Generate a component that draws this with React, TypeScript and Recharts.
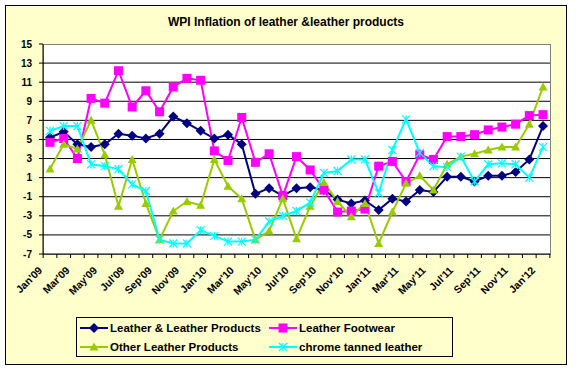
import { CartesianGrid, Legend, Line, LineChart, XAxis, YAxis } from "recharts";

const months = [
  "Jan'09", "Feb'09", "Mar'09", "Apr'09", "May'09", "Jun'09", "Jul'09", "Aug'09", "Sep'09", "Oct'09", "Nov'09", "Dec'09",
  "Jan'10", "Feb'10", "Mar'10", "Apr'10", "May'10", "Jun'10", "Jul'10", "Aug'10", "Sep'10", "Oct'10", "Nov'10", "Dec'10",
  "Jan'11", "Feb'11", "Mar'11", "Apr'11", "May'11", "Jun'11", "Jul'11", "Aug'11", "Sep'11", "Oct'11", "Nov'11", "Dec'11",
  "Jan'12",
];

const leatherProducts = [
  5.2, 5.8, 4.5, 4.2, 4.5, 5.6, 5.4, 5.1, 5.6, 7.4, 6.7, 5.9,
  5.1, 5.5, 4.5, -0.7, -0.1, -0.9, -0.1, 0.0, -0.3, -1.3, -1.7, -1.4,
  -2.4, -1.2, -1.5, -0.3, -0.5, 1.1, 1.1, 0.6, 1.2, 1.2, 1.6, 2.9,
  6.4,
];

const leatherFootwear = [
  4.7, 5.1, 3.0, 9.3, 8.8, 12.2, 8.4, 10.1, 7.9, 10.5, 11.4, 11.2,
  3.8, 2.8, 7.3, 2.6, 3.5, -0.9, 3.2, 1.8, -0.3, -2.6, -2.5, -2.3,
  2.2, 2.7, 0.6, 3.4, 2.9, 5.3, 5.3, 5.5, 6.0, 6.3, 6.6, 7.5,
  7.6,
];

const otherProducts = [
  1.9, 4.5, 4.0, 7.0, 3.4, -2.0, 2.9, -1.7, -5.5, -2.5, -1.5, -1.9,
  2.9, 0.1, -1.2, -5.5, -4.6, -1.2, -5.4, -2.0, 0.5, -1.5, -3.1, -1.7,
  -5.9, -2.6, 0.4, 1.2, -0.3, 2.4, 3.2, 3.5, 3.9, 4.2, 4.2, 6.6,
  10.5,
];

const chromeTanned = [
  5.9, 6.4, 6.4, 2.4, 2.2, 1.9, 0.3, -0.4, -5.5, -5.9, -5.9, -4.5,
  -5.1, -5.7, -5.7, -5.5, -3.6, -3.0, -2.5, -1.6, 1.5, 1.7, 2.9, 2.9,
  -0.6, 3.9, 7.1, 3.6, 2.2, 2.1, 3.2, 0.6, 2.4, 2.5, 2.4, 1.0,
  4.2,
];

const yTicks = [-7, -5, -3, -1, 1, 3, 5, 7, 9, 11, 13, 15];
const gridValues = [-5, -3, -1, 1, 3, 5, 7, 9, 11, 13];

const data = months.map((month, i) => ({
  month,
  leather: leatherProducts[i],
  footwear: leatherFootwear[i],
  other: otherProducts[i],
  chrome: chromeTanned[i],
}));

const FONT = "'Liberation Sans', Arial, sans-serif";
const STEP = 13.69;

function marker(kind: string, cx: number, cy: number, color: string, key?: string | number) {
  if (cx == null || cy == null) return <g key={key} />;
  if (kind === "diamond") {
    return (
      <path key={key} d={`M${cx},${cy - 5}L${cx + 5},${cy}L${cx},${cy + 5}L${cx - 5},${cy}Z`} fill={color} />
    );
  }
  if (kind === "square") {
    return <rect key={key} x={cx - 4.5} y={cy - 4.5} width={9} height={9} fill={color} />;
  }
  if (kind === "triangle") {
    return (
      <path key={key} d={`M${cx},${cy - 4.5}L${cx + 4.5},${cy + 3.5}L${cx - 4.5},${cy + 3.5}Z`} fill={color} />
    );
  }
  return (
    <g key={key} stroke={color} strokeWidth={1.2}>
      <line x1={cx - 4} y1={cy - 4} x2={cx + 4} y2={cy + 4} />
      <line x1={cx - 4} y1={cy + 4} x2={cx + 4} y2={cy - 4} />
      <line x1={cx} y1={cy - 4} x2={cx} y2={cy + 4} />
    </g>
  );
}

const markers: Record<string, string> = {
  leather: "diamond",
  footwear: "square",
  other: "triangle",
  chrome: "cross",
};

function MonthTick(props: any) {
  const { x, y, payload, index } = props;
  const i = payload?.index ?? index;
  return (
    <g>
      <line x1={x - STEP / 2} y1={y} x2={x - STEP / 2} y2={y + 4} stroke="#000" />
      {i === months.length - 1 && (
        <line x1={x + STEP / 2} y1={y} x2={x + STEP / 2} y2={y + 4} stroke="#000" />
      )}
      {i % 2 === 0 && (
        <text
          x={x - 7}
          y={y + 17}
          textAnchor="end"
          transform={`rotate(-45 ${x - 7} ${y + 17})`}
          fontFamily={FONT}
          fontWeight="bold"
          fontSize={10.5}
          fill="#000"
        >
          {payload.value}
        </text>
      )}
    </g>
  );
}

function LegendBox(props: any) {
  const items = props.payload || [];
  return (
    <div
      style={{
        width: 377,
        height: 40,
        boxSizing: "border-box",
        border: "1px solid #000",
        position: "relative",
        fontFamily: FONT,
        fontWeight: "bold",
        fontSize: 11.5,
      }}
    >
      {items.map((item: any, i: number) => (
        <div
          key={item.value}
          style={{
            position: "absolute",
            left: i % 2 === 0 ? 3 : 192,
            top: i < 2 ? 3 : 22,
            height: 14,
            display: "flex",
            alignItems: "center",
            whiteSpace: "nowrap",
          }}
        >
          <svg width={28} height={14} style={{ marginRight: 2 }}>
            <line x1={0} y1={7} x2={28} y2={7} stroke={item.color} strokeWidth={2} />
            {marker(markers[item.dataKey], 14, 7, item.color)}
          </svg>
          <span>{item.value}</span>
        </div>
      ))}
    </div>
  );
}

export default function App() {
  return (
    <div style={{ position: "absolute", left: 0, top: 0, width: 576, height: 370, background: "#fff" }}>
      <div
        style={{
          position: "absolute",
          left: 5,
          top: 5,
          width: 562,
          height: 360,
          boxSizing: "border-box",
          border: "1px solid #000",
          background: "#FFFFCC",
        }}
      />
      <div
        style={{
          position: "absolute",
          left: 43,
          top: 44,
          width: 508,
          height: 211,
          boxSizing: "border-box",
          border: "1px solid #808080",
          background: "#fff",
        }}
      />
      <div
        style={{
          position: "absolute",
          left: 5,
          width: 562,
          top: 15,
          textAlign: "center",
          fontFamily: FONT,
          fontWeight: "bold",
          fontSize: 12,
          lineHeight: "14px",
        }}
      >
        WPI Inflation of leather &amp;leather products
      </div>
      <div style={{ position: "absolute", left: 0, top: 0 }}>
        <LineChart width={576} height={370} data={data} margin={{ top: 44, right: 26, bottom: 86, left: 5 }}>
          <CartesianGrid
            horizontal
            vertical={false}
            stroke="#000"
            strokeWidth={1}
            horizontalValues={gridValues}
          />
          <XAxis
            dataKey="month"
            interval={0}
            height={30}
            padding={{ left: 7, right: 7 }}
            tickLine={false}
            tickSize={0}
            tickMargin={0}
            axisLine={{ stroke: "#000" }}
            tick={<MonthTick />}
          />
          <YAxis
            domain={[-7, 15]}
            ticks={yTicks}
            width={38}
            tickSize={4}
            tickMargin={7}
            axisLine={{ stroke: "#000" }}
            tickLine={{ stroke: "#000" }}
            tick={{ fill: "#000", fontFamily: FONT, fontWeight: "bold", fontSize: 10 }}
            interval={0}
          />
          <Line
            dataKey="leather"
            name="Leather & Leather Products"
            stroke="#000080"
            strokeWidth={2}
            dot={(p: any) => marker("diamond", p.cx, p.cy, "#000080", p.index)}
            isAnimationActive={false}
          />
          <Line
            dataKey="footwear"
            name="Leather Footwear"
            stroke="#FF00FF"
            strokeWidth={2}
            dot={(p: any) => marker("square", p.cx, p.cy, "#FF00FF", p.index)}
            isAnimationActive={false}
          />
          <Line
            dataKey="other"
            name="Other Leather Products"
            stroke="#99CC00"
            strokeWidth={2}
            dot={(p: any) => marker("triangle", p.cx, p.cy, "#99CC00", p.index)}
            isAnimationActive={false}
          />
          <Line
            dataKey="chrome"
            name="chrome tanned leather"
            stroke="#00FFFF"
            strokeWidth={2}
            dot={(p: any) => marker("cross", p.cx, p.cy, "#00FFFF", p.index)}
            isAnimationActive={false}
          />
          <Legend
            layout="horizontal"
            verticalAlign="middle"
            width={377}
            wrapperStyle={{ left: 76, top: 317, width: 377 }}
            content={<LegendBox />}
          />
        </LineChart>
      </div>
    </div>
  );
}
